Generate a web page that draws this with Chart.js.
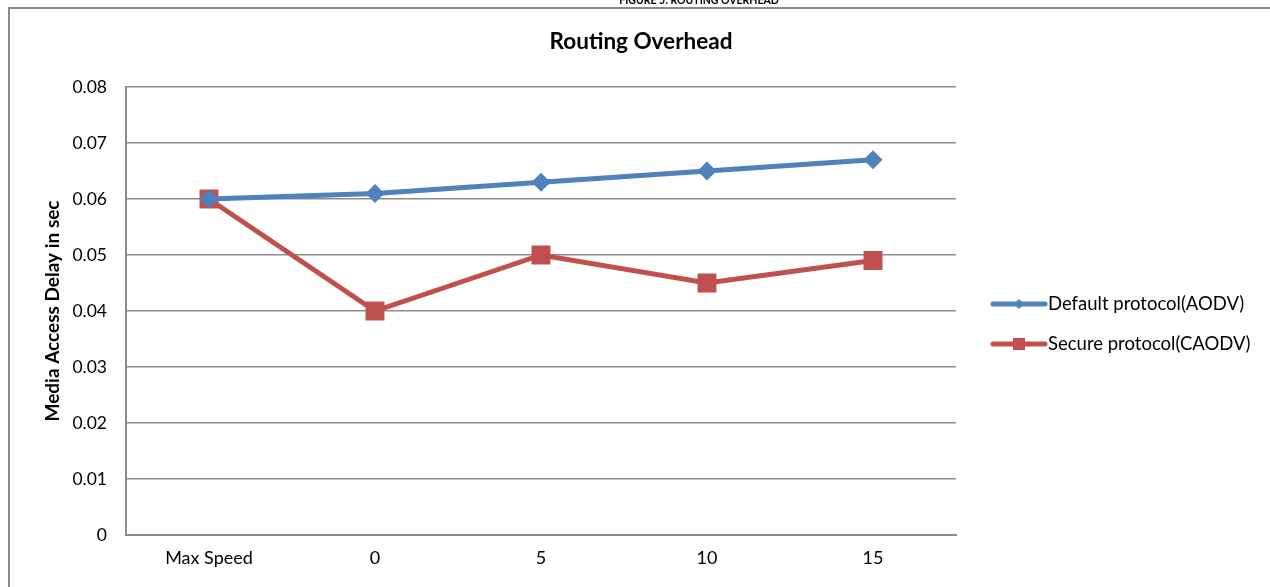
<!DOCTYPE html>
<html>
<head>
<meta charset="utf-8">
<script src="https://cdn.jsdelivr.net/npm/chart.js@4.4.1/dist/chart.umd.min.js"></script>
<style>
  html, body { margin: 0; padding: 0; background: #fff; }
  #wrap { position: relative; width: 1270px; height: 587px; }
</style>
</head>
<body>
<div id="wrap"><canvas id="chart" width="1270" height="587"></canvas></div>
<script>
// Max speed settings on the x axis
const categories = ['Max Speed', '0', '5', '10', '15'];
// Media access delay (sec) per protocol
const aodvDelay = [0.060, 0.061, 0.063, 0.065, 0.067];
const caodvDelay = [0.060, 0.040, 0.050, 0.045, 0.049];
const seriesNames = ['Default protocol(AODV)', 'Secure protocol(CAODV)'];
const yTicks = [0, 0.01, 0.02, 0.03, 0.04, 0.05, 0.06, 0.07, 0.08];
const chartTitle = 'Routing Overhead';
const figureCaption = 'FIGURE 5: ROUTING OVERHEAD';

const FONT = 'Lato, "Open Sans", sans-serif';
const BLUE = '#4F81BD';
const RED = '#C0504D';
const GRID = '#8c8c8c';

// Outer frame, clipped figure caption and chart title
const framePlugin = {
  id: 'frame',
  beforeDraw(chart) {
    const ctx = chart.ctx;
    ctx.save();
    ctx.fillStyle = '#fff';
    ctx.fillRect(0, 0, chart.width, chart.height);
    ctx.strokeStyle = '#8a8a8a';
    ctx.lineWidth = 2;
    ctx.beginPath();
    ctx.moveTo(9, chart.height + 2);
    ctx.lineTo(9, 8);
    ctx.lineTo(chart.width + 2, 8);
    ctx.stroke();
    ctx.fillStyle = '#000';
    ctx.textAlign = 'center';
    ctx.textBaseline = 'alphabetic';
    ctx.font = 'bold 10.5px ' + FONT;
    ctx.fillText(figureCaption, 699, 3.5);
    ctx.textBaseline = 'middle';
    ctx.font = 'bold 22.5px ' + FONT;
    ctx.fillText(chartTitle, 641, 42);
    ctx.restore();
  }
};

// Legend drawn as line-with-marker samples, like the series themselves
const lineLegend = {
  id: 'lineLegend',
  afterDraw(chart) {
    const ctx = chart.ctx;
    const x0 = 993, x1 = 1045, rows = [304, 344];
    ctx.save();
    chart.data.datasets.forEach((ds, i) => {
      const y = rows[i];
      ctx.strokeStyle = ds.borderColor;
      ctx.lineWidth = 5;
      ctx.lineCap = 'round';
      ctx.beginPath();
      ctx.moveTo(x0, y);
      ctx.lineTo(x1, y);
      ctx.stroke();
      const cx = (x0 + x1) / 2;
      ctx.fillStyle = ds.pointBackgroundColor;
      ctx.beginPath();
      if (ds.pointStyle === 'rectRot') {
        const r = 5;
        ctx.moveTo(cx, y - r); ctx.lineTo(cx + r, y); ctx.lineTo(cx, y + r); ctx.lineTo(cx - r, y);
        ctx.closePath();
      } else {
        ctx.rect(cx - 6, y - 6, 12, 12);
      }
      ctx.fill();
      ctx.fillStyle = '#000';
      ctx.font = '18.5px ' + FONT;
      ctx.textAlign = 'left';
      ctx.textBaseline = 'middle';
      ctx.fillText(ds.label, 1048, y);
    });
    ctx.restore();
  }
};

new Chart(document.getElementById('chart'), {
  type: 'line',
  data: {
    labels: categories,
    datasets: [
      {
        label: seriesNames[0],
        data: aodvDelay,
        borderColor: BLUE,
        backgroundColor: BLUE,
        pointBackgroundColor: BLUE,
        pointBorderColor: BLUE,
        borderWidth: 5,
        pointStyle: 'rectRot',
        pointRadius: 9.5,
        pointBorderWidth: 0,
        tension: 0
      },
      {
        label: seriesNames[1],
        data: caodvDelay,
        borderColor: RED,
        backgroundColor: RED,
        pointBackgroundColor: RED,
        pointBorderColor: RED,
        borderWidth: 5,
        pointStyle: 'rect',
        pointRadius: 13.4,
        pointBorderWidth: 0,
        tension: 0
      }
    ]
  },
  options: {
    responsive: false,
    animation: false,
    events: [],
    layout: { padding: { left: 0, right: 314, top: 87, bottom: 0 } },
    plugins: {
      legend: { display: false },
      tooltip: { enabled: false },
      title: { display: false }
    },
    scales: {
      x: {
        offset: true,
        grid: { display: false, drawTicks: false },
        border: { display: true, color: GRID, width: 2 },
        ticks: { color: '#000', font: { family: FONT, size: 18 }, padding: 12, maxRotation: 0 },
        afterFit(scale) { scale.height = 52; }
      },
      y: {
        min: 0,
        max: 0.08,
        afterBuildTicks(scale) { scale.ticks = yTicks.map(v => ({ value: v })); },
        grid: { color: GRID, lineWidth: 1.5, drawTicks: false },
        border: { display: true, color: GRID, width: 2 },
        ticks: {
          color: '#000',
          font: { family: FONT, size: 17.5 },
          padding: 19,
          callback: v => (v === 0 ? '0' : v.toFixed(2))
        },
        title: {
          display: true,
          text: 'Media Access Delay in sec',
          color: '#000',
          font: { family: FONT, size: 19, weight: 'bold' },
          padding: { top: 41.5, bottom: 0 }
        },
        afterFit(scale) { scale.width = 126; }
      }
    }
  },
  plugins: [framePlugin, lineLegend]
});
</script>
</body>
</html>
